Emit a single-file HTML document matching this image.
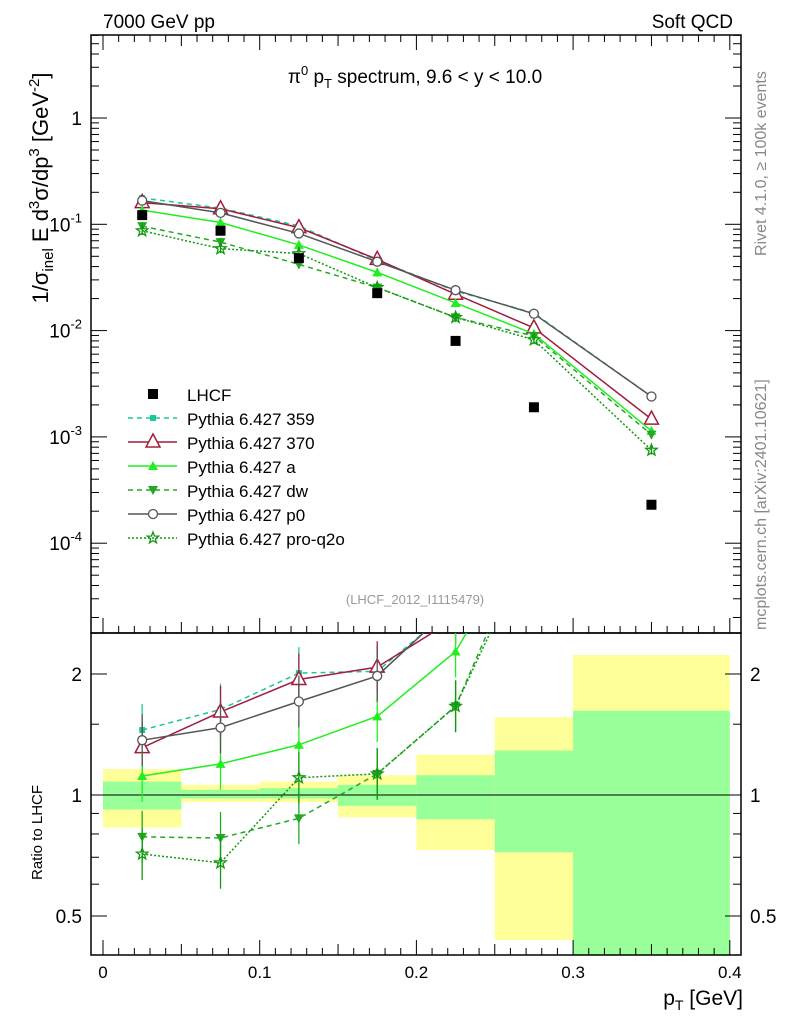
<!DOCTYPE html>
<html><head><meta charset="utf-8"><style>
body{margin:0;background:#fff}
svg{font-family:"Liberation Sans",sans-serif}
</style></head><body>
<svg id="c" width="786" height="1024" viewBox="0 0 786 1024">
<defs>
<clipPath id="mainclip"><rect x="91" y="35" width="650" height="598"/></clipPath>
<clipPath id="ratioclip"><rect x="91" y="633" width="650" height="322"/></clipPath>
</defs>
<g id="bands" clip-path="url(#ratioclip)"></g>
<rect x="91" y="35" width="650" height="598" fill="none" stroke="#000" stroke-width="1.5"/>
<rect x="91" y="633" width="650" height="322" fill="none" stroke="#000" stroke-width="1.5"/>
<line x1="91" y1="795" x2="741" y2="795" stroke="#000" stroke-width="1"/>
<g id="axes"></g>
<g id="mainmarks" clip-path="url(#mainclip)"></g>
<g id="ratiomarks" clip-path="url(#ratioclip)"></g>
<g id="legend"></g>
<text x="103" y="28" font-size="19">7000 GeV pp</text>
<text x="733" y="28" font-size="19" text-anchor="end">Soft QCD</text>
<text x="415" y="83" font-size="19" text-anchor="middle">π<tspan font-size="13" dy="-8">0</tspan><tspan dy="8"> p</tspan><tspan font-size="13" dy="5">T</tspan><tspan dy="-5"> spectrum, 9.6 &lt; y &lt; 10.0</tspan></text>
<text x="415" y="604" font-size="13" fill="#999" text-anchor="middle">(LHCF_2012_I1115479)</text>
<text transform="translate(766,256) rotate(-90)" font-size="16" fill="#888">Rivet 4.1.0, ≥ 100k events</text>
<text transform="translate(766,630) rotate(-90)" font-size="16" fill="#888">mcplots.cern.ch [arXiv:2401.10621]</text>
<text transform="translate(48,188) rotate(-90)" font-size="22" text-anchor="middle">1/σ<tspan font-size="15" dy="5">inel</tspan><tspan dy="-5"> E d</tspan><tspan font-size="15" dy="-9">3</tspan><tspan dy="9">σ/dp</tspan><tspan font-size="15" dy="-9">3</tspan><tspan dy="9"> [GeV</tspan><tspan font-size="15" dy="-9">-2</tspan><tspan dy="9">]</tspan></text>
<text transform="translate(42,880) rotate(-90)" font-size="15">Ratio to LHCF</text>
<text x="743" y="1005" font-size="21" text-anchor="end">p<tspan font-size="14" dy="5">T</tspan><tspan dy="-5"> [GeV]</tspan></text>
</svg>
<script>
const xs = [0.025, 0.075, 0.125, 0.175, 0.225, 0.275, 0.35];
const lhcf = [0.122, 0.087, 0.048, 0.0225, 0.008, 0.0019, 0.00023];
const s359 = [0.177, 0.142, 0.0965, 0.0457, 0.0236, 0.0146, 0.0024];
const s370 = [0.160, 0.140, 0.093, 0.0468, 0.022, 0.0106, 0.00147];
const sA = [0.136, 0.104, 0.064, 0.0353, 0.0182, 0.0093, 0.00114];
const sDw = [0.096, 0.068, 0.042, 0.0254, 0.0133, 0.0089, 0.00105];
const sP0 = [0.167, 0.128, 0.082, 0.0445, 0.024, 0.0144, 0.0024];
const sPro = [0.087, 0.059, 0.053, 0.0254, 0.0133, 0.0082, 0.00075];
const binEdges = [0, 0.05, 0.1, 0.15, 0.2, 0.25, 0.3, 0.4];
const yellowLo = [0.83, 0.96, 0.96, 0.88, 0.73, 0.436, 0.35];
const yellowHi = [1.16, 1.06, 1.08, 1.12, 1.26, 1.56, 2.23];
const greenLo = [0.92, 0.98, 0.98, 0.94, 0.87, 0.72, 0.35];
const greenHi = [1.08, 1.03, 1.04, 1.06, 1.12, 1.29, 1.62];
const xTicks = [0, 0.1, 0.2, 0.3, 0.4];
const xTickLabels = ["0", "0.1", "0.2", "0.3", "0.4"];
const ratioTicks = [0.5, 1, 2];

const NS = "http://www.w3.org/2000/svg";
const X = v => 103 + v * 1567;
const Y = v => 118 - Math.log10(v) * 106.3;
const R = v => 795 - Math.log10(v) * 402;
function mk(parent, tag, attrs) {
  const e = document.createElementNS(NS, tag);
  for (const k in attrs) e.setAttribute(k, attrs[k]);
  document.getElementById(parent).appendChild(e);
  return e;
}
for (let i = 0; i < 7; i++) {
  let e = mk("bands", "rect", {x: X(binEdges[i]), y: R(yellowHi[i]), width: X(binEdges[i+1]) - X(binEdges[i]), height: R(yellowLo[i]) - R(yellowHi[i]), fill: "#ffff99"});
  
  
  e = mk("bands", "rect", {x: X(binEdges[i]), y: R(greenHi[i]), width: X(binEdges[i+1]) - X(binEdges[i]), height: R(greenLo[i]) - R(greenHi[i]), fill: "#99ff99"});
  
  
}
xTicks.forEach((t, i) => {
  for (const [y0, y1] of [[633, 618], [35, 50], [955, 940]]) {
    const e = mk("axes", "line", {x1: X(t), x2: X(t), y1: y0, y2: y1, stroke: "#000"});
    
    
  }
  const tx = mk("axes", "text", {x: X(t), y: 978, "font-size": 17, "text-anchor": "middle"});
  tx.textContent = xTickLabels[i];
  
  
});
for (let t = 0.01; t < 0.4; t += 0.01) {
  if (Math.abs(t * 10 - Math.round(t * 10)) < 1e-6) continue;
  const len = Math.abs(t * 20 - Math.round(t * 20)) < 1e-6 ? 11 : 7;
  for (const [y0, d] of [[633, -1], [35, 1], [955, -1]]) {
    const e = mk("axes", "line", {x1: X(t), x2: X(t), y1: y0, y2: y0 + d * len, stroke: "#000"});
    
    
  }
}
for (let d = -5; d <= 0; d++) {
  for (let m = 1; m < 10; m++) {
    const v = m * Math.pow(10, d);
    const y = Y(v);
    if (y < 35 || y > 633) continue;
    const len = m === 1 ? 16 : 8;
    for (const [x0, dd] of [[91, 1], [741, -1]]) {
      const e = mk("axes", "line", {x1: x0, x2: x0 + dd * len, y1: y, y2: y, stroke: "#000"});
      
      
    }
    if (m === 1) {
      const tx = mk("axes", "text", {x: 82, y: y + 7, "font-size": 19, "text-anchor": "end"});
      if (d === 0) tx.textContent = "1";
      else tx.innerHTML = '10<tspan font-size="13" dy="-9">' + (d === -1 ? '-1' : '-' + (-d)) + '</tspan>';
      
      
    }
  }
}
ratioTicks.forEach(t => {
  for (const [x0, dd] of [[91, 1], [741, -1]]) {
    const e = mk("axes", "line", {x1: x0, x2: x0 + dd * 16, y1: R(t), y2: R(t), stroke: "#000"});
    
    
  }
  for (const [x, a] of [[82, "end"], [750, "start"]]) {
    const tx = mk("axes", "text", {x: x, y: R(t) + 7, "font-size": 19, "text-anchor": a});
    tx.textContent = String(t);
    
    
  }
});
[0.4, 0.6, 0.7, 0.8, 0.9, 1.5].forEach(t => {
  for (const [x0, dd] of [[91, 1], [741, -1]]) {
    const e = mk("axes", "line", {x1: x0, x2: x0 + dd * 8, y1: R(t), y2: R(t), stroke: "#000"});
    
    
  }
});

function marker(g, type, x, y, color, size) {
  let e;
  const s = size || 5;
  if (type === "sq") e = mk(g, "rect", {x: x - s, y: y - s, width: 2 * s, height: 2 * s, fill: color});
  else if (type === "sqs") e = mk(g, "rect", {x: x - 3, y: y - 3, width: 6, height: 6, fill: color});
  else if (type === "tri") e = mk(g, "polygon", {points: `${x},${y-8} ${x-7},${y+5} ${x+7},${y+5}`, fill: "#fff", stroke: color, "stroke-width": 1.5});
  else if (type === "trif") e = mk(g, "polygon", {points: `${x},${y-5} ${x-5},${y+4} ${x+5},${y+4}`, fill: color});
  else if (type === "trid") e = mk(g, "polygon", {points: `${x},${y+5} ${x-5},${y-4} ${x+5},${y-4}`, fill: color});
  else if (type === "circ") e = mk(g, "circle", {cx: x, cy: y, r: 4.5, fill: "#fff", stroke: color, "stroke-width": 1.3});
  else if (type === "star") {
    let p = [];
    for (let k = 0; k < 10; k++) { const r = k % 2 ? 2.5 : 6; const a = -Math.PI / 2 + k * Math.PI / 5; p.push((x + r * Math.cos(a)).toFixed(1) + "," + (y + r * Math.sin(a)).toFixed(1)); }
    e = mk(g, "polygon", {points: p.join(" "), fill: "none", stroke: color, "stroke-width": 1.3});
  }
  return e;
}
const series = [
  {name: "359", vals: s359, color: "#1ac89a", dash: "5,4", m: "sqs"},
  {name: "370", vals: s370, color: "#a01e3c", dash: "", m: "tri"},
  {name: "a", vals: sA, color: "#22ee22", dash: "", m: "trif"},
  {name: "dw", vals: sDw, color: "#22aa22", dash: "5,4", m: "trid"},
  {name: "p0", vals: sP0, color: "#555555", dash: "", m: "circ"},
  {name: "pro-q2o", vals: sPro, color: "#119911", dash: "2,2", m: "star"}
];
series.forEach(s => {
  const ratio = s.vals.map((v, i) => v / lhcf[i]);
  const pm = s.vals.map((v, i) => X(xs[i]) + "," + Y(v)).join(" ");
  let e = mk("mainmarks", "polyline", {points: pm, fill: "none", stroke: s.color, "stroke-width": 1.5, "stroke-dasharray": s.dash});
  
  
  const pr = ratio.map((v, i) => X(xs[i]) + "," + R(v)).join(" ");
  e = mk("ratiomarks", "polyline", {points: pr, fill: "none", stroke: s.color, "stroke-width": 1.5, "stroke-dasharray": s.dash});
  
  
  s.vals.forEach((v, i) => {
    const x = X(xs[i]);
    let b = mk("mainmarks", "line", {x1: x, x2: x, y1: Y(v * 1.1), y2: Y(v / 1.1), stroke: s.color, "stroke-width": 1.3});
    
    
    e = marker("mainmarks", s.m, x, Y(v), s.color);
    
    
    const r = ratio[i];
    b = mk("ratiomarks", "line", {x1: x, x2: x, y1: R(r * 1.16), y2: R(r / 1.16), stroke: s.color, "stroke-width": 1.3});
    
    
    e = marker("ratiomarks", s.m, x, R(r), s.color);
    
    
  });
});
lhcf.forEach((v, i) => {
  const e = marker("mainmarks", "sq", X(xs[i]), Y(v), "#000", 5);
  
  
});
const legY = [394, 418, 442, 466, 490, 514, 538];
let e = marker("legend", "sq", 153, legY[0], "#000", 5);


let t = mk("legend", "text", {x: 187, y: legY[0] + 7, "font-size": 17});
t.textContent = "LHCF";


series.forEach((s, k) => {
  const y = legY[k + 1];
  let l = mk("legend", "line", {x1: 128, x2: 177, y1: y, y2: y, stroke: s.color, "stroke-width": 1.5, "stroke-dasharray": s.dash});
  
  
  l = marker("legend", s.m, 153, y, s.color);
  
  
  const tt = mk("legend", "text", {x: 187, y: y + 7, "font-size": 17});
  tt.textContent = "Pythia 6.427 " + s.name;
  
  
});
</script>
</body></html>
